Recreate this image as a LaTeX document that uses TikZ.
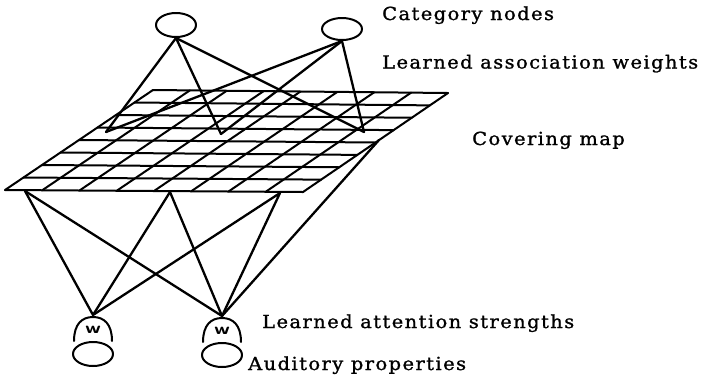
\documentclass[tikz,border=0pt]{standalone}
\usepackage{fontspec}
\newfontfamily\labfont{DejaVu Serif}[LetterSpace=8, FakeStretch=1.08, FakeBold=1.2]
\usetikzlibrary{calc,shapes.geometric}
\begin{document}
\begin{tikzpicture}[x=1pt,y=-1pt, line join=round, line cap=round,
  conn/.style={line width=2.3pt},
  gridline/.style={line width=2.0pt},
  unit/.style={ellipse, draw, line width=2.0pt, minimum width=40pt, minimum height=24pt, inner sep=0pt},
  wlabel/.style={inner sep=0pt, font=\sffamily\bfseries\fontsize{16}{16}\selectfont},
  lab/.style={anchor=base west, inner sep=0pt, font=\labfont\fontsize{18}{18}\selectfont}]
\useasboundingbox (0,0) rectangle (701,384);
% covering map grid
\coordinate (BL) at (5,190);
\coordinate (BR) at (303,192);
\coordinate (TR) at (448,93);
\coordinate (TL) at (153,90);
\foreach \i in {0,...,8} {
  \draw[gridline] ($(BL)!{\i/8}!(TL)$) -- ($(BR)!{\i/8}!(TR)$);
  \draw[gridline] ($(BL)!{\i/8}!(BR)$) -- ($(TL)!{\i/8}!(TR)$);
}
% points on the map
\coordinate (gA) at (106,132);
\coordinate (gB) at (221,134);
\coordinate (gC) at (364,132);
\coordinate (gP1) at (25,191);
\coordinate (gP2) at (170,192);
\coordinate (gP3) at (280,193);
\coordinate (gP4) at (379,140);
% category nodes
\node[unit] (cat1) at (176,25) {};
\node[unit, minimum height=22pt] (cat2) at (342,29) {};
\foreach \c in {cat1,cat2} {
  \foreach \g in {gA,gB,gC} {
    \draw[conn] (\c.south) -- (\g);
  }
}
% attention strength units
\node[wlabel] (w1) at (93,330) {\scalebox{1.3}[1]{w}};
\node[wlabel] (w2) at (222,331) {\scalebox{1.3}[1]{w}};
\foreach \w in {w1,w2} {
  \coordinate (\w top) at ($(\w)+(0,-15)$);
  \draw[gridline] ($(\w)+(-19,11)$) .. controls ($(\w)+(-19,-6)$) and ($(\w)+(-11,-13)$) .. ($(\w)+(0,-13)$)
    .. controls ($(\w)+(11,-13)$) and ($(\w)+(19,-6)$) .. ($(\w)+(19,11)$);
}
\foreach \g in {gP1,gP2,gP3} {
  \draw[conn] (\g) -- (w1top);
}
\foreach \g in {gP1,gP2,gP3,gP4} {
  \draw[conn] (\g) -- (w2top);
}
% auditory property units
\node[unit] (aud1) at (93,354) {};
\node[unit] (aud2) at (222,355) {};
% labels
\node[lab] (tcat) at (382,20) {Category nodes};
\node[lab] (tlaw) at (382,68.5) {Learned association weights};
\node[lab] (tcov) at (472,145) {Covering map};
\node[lab] (tlas) at (262,328) {Learned attention strengths};
\node[lab] (taud) at (248,370) {Auditory properties};
\end{tikzpicture}
\end{document}
